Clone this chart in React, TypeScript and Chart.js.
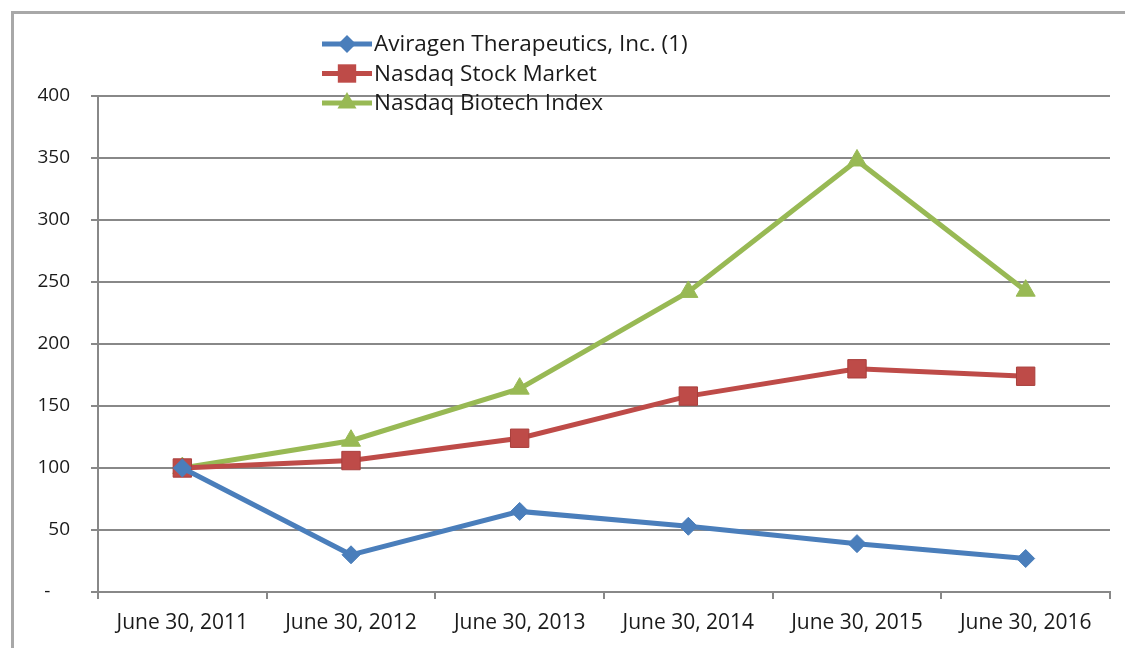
import React, { useEffect, useRef } from "react";
import { Chart, registerables } from "chart.js";

Chart.register(...registerables);

const categories = [
  "June 30, 2011",
  "June 30, 2012",
  "June 30, 2013",
  "June 30, 2014",
  "June 30, 2015",
  "June 30, 2016",
];
const avirogenValues = [100, 30, 65, 53, 39, 27];
const nasdaqValues = [100, 106, 124, 158, 180, 174];
const biotechValues = [100, 122, 164, 242, 348, 243];
const seriesNames = [
  "Aviragen Therapeutics, Inc. (1)",
  "Nasdaq Stock Market",
  "Nasdaq Biotech Index",
];

const BLUE = "#4A7EBB";
const RED = "#BE4B48";
const GREEN = "#98B954";
const GRID = "#888888";
const FONT = "'Open Sans', Lato, sans-serif";

const framePlugin = {
  id: "frame",
  beforeDraw(chart: any) {
    const ctx = chart.ctx;
    ctx.save();
    ctx.fillStyle = "#ffffff";
    ctx.fillRect(0, 0, chart.width, chart.height);
    ctx.fillStyle = "#a8a8a8";
    ctx.fillRect(11, 11, chart.width - 11, 3);
    ctx.fillRect(11, 11, 3, chart.height - 11);
    ctx.restore();
  },
};

const legendPlugin = {
  id: "customLegend",
  afterDatasetsDraw(chart: any) {
    const ctx = chart.ctx;
    const rows = [44, 73.5, 103];
    ctx.save();
    chart.data.datasets.forEach((ds: any, i: number) => {
      const y = rows[i];
      ctx.strokeStyle = ds.borderColor;
      ctx.lineWidth = 5;
      ctx.beginPath();
      ctx.moveTo(322, y);
      ctx.lineTo(372, y);
      ctx.stroke();
      ctx.fillStyle = ds.pointBackgroundColor;
      const style = ds.pointStyle;
      const r = ds.pointRadius;
      ctx.beginPath();
      if (style === "rectRot") {
        ctx.moveTo(347, y - r);
        ctx.lineTo(347 + r, y);
        ctx.lineTo(347, y + r);
        ctx.lineTo(347 - r, y);
        ctx.closePath();
      } else if (style === "rect") {
        const s = r / Math.SQRT2;
        ctx.rect(347 - s, y - s, 2 * s, 2 * s);
      } else {
        ctx.moveTo(347, y - r);
        ctx.lineTo(347 + r * 0.866, y + r * 0.5);
        ctx.lineTo(347 - r * 0.866, y + r * 0.5);
        ctx.closePath();
      }
      ctx.fill();
      ctx.fillStyle = "#1a1a1a";
      ctx.font = `22.5px ${FONT}`;
      ctx.textAlign = "left";
      ctx.textBaseline = "middle";
      ctx.fillText(ds.label, 374, y + 1);
    });
    ctx.restore();
  },
};

export default function App() {
  const ref = useRef<HTMLCanvasElement | null>(null);

  useEffect(() => {
    if (!ref.current) return;
    const chart = new Chart(ref.current, {
      type: "line",
      data: {
        labels: categories,
        datasets: [
          {
            label: seriesNames[0],
            data: avirogenValues,
            borderColor: BLUE,
            backgroundColor: BLUE,
            pointBackgroundColor: BLUE,
            pointBorderColor: BLUE,
            pointStyle: "rectRot",
            pointRadius: 9,
            borderWidth: 5,
            pointBorderWidth: 1,
          },
          {
            label: seriesNames[1],
            data: nasdaqValues,
            borderColor: RED,
            backgroundColor: RED,
            pointBackgroundColor: RED,
            pointBorderColor: "#A83F3C",
            pointStyle: "rect",
            pointRadius: 13,
            borderWidth: 5,
            pointBorderWidth: 1,
          },
          {
            label: seriesNames[2],
            data: biotechValues,
            borderColor: GREEN,
            backgroundColor: GREEN,
            pointBackgroundColor: GREEN,
            pointBorderColor: GREEN,
            pointStyle: "triangle",
            pointRadius: 11,
            borderWidth: 5,
            pointBorderWidth: 1,
          },
        ] as any,
      },
      options: {
        animation: false,
        responsive: false,
        maintainAspectRatio: false,
        layout: { padding: { top: 96, right: 15, bottom: 0, left: 0 } },
        plugins: {
          legend: { display: false },
          tooltip: { enabled: false },
        },
        scales: {
          x: {
            type: "category",
            offset: true,
            grid: {
              offset: true,
              drawOnChartArea: false,
              drawTicks: true,
              tickLength: 7,
              color: GRID,
              lineWidth: 2,
            },
            border: { color: GRID, width: 2 },
            ticks: {
              color: "#1a1a1a",
              font: { family: FONT, size: 21 },
              padding: 11,
              maxRotation: 0,
              autoSkip: false,
            },
            afterFit: (s: any) => {
              s.height = 56;
            },
          },
          y: {
            min: 0,
            max: 400,
            grid: {
              color: GRID,
              lineWidth: 2,
              tickLength: 7,
            },
            border: { color: GRID, width: 2 },
            ticks: {
              stepSize: 50,
              color: "#1a1a1a",
              font: { family: FONT, size: 19 },
              padding: 21,
              callback: (v: any) => (v === 0 ? "-    " : String(v)),
            },
            afterFit: (s: any) => {
              s.width = 98;
            },
          },
        },
      } as any,
      plugins: [framePlugin, legendPlugin],
    });
    return () => chart.destroy();
  }, []);

  return (
    <div
      style={{
        position: "fixed",
        left: 0,
        top: 0,
        width: 1125,
        height: 648,
        background: "#fff",
      }}
    >
      <canvas ref={ref} width={1125} height={648} style={{ width: 1125, height: 648, display: "block" }} />
    </div>
  );
}
